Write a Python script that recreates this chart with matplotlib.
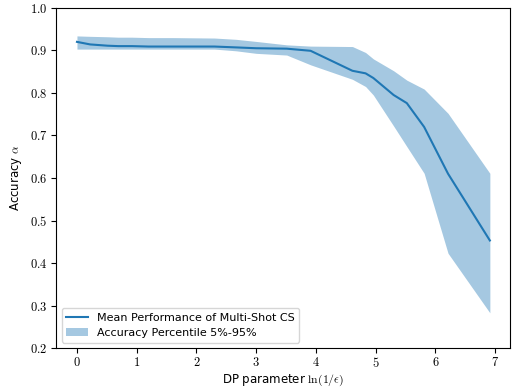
import matplotlib
matplotlib.use("Agg")
import matplotlib.pyplot as plt
from matplotlib.ticker import FuncFormatter

plt.rcParams['mathtext.fontset'] = 'cm'
plt.rcParams['font.family'] = 'DejaVu Sans'

# DP parameter ln(1/eps)
dp_param = [0.0, 0.22, 0.51, 0.69, 0.92, 1.20, 1.61, 2.30, 2.66, 3.00, 3.51, 3.91,
            4.61, 4.83, 4.96, 5.30, 5.52, 5.81, 6.21, 6.91]
mean_acc = [0.920, 0.914, 0.911, 0.910, 0.910, 0.909, 0.909, 0.909, 0.907, 0.905, 0.904, 0.899,
            0.852, 0.846, 0.835, 0.795, 0.776, 0.720, 0.610, 0.453]
upper_acc = [0.934, 0.933, 0.932, 0.931, 0.931, 0.930, 0.930, 0.929, 0.926, 0.921, 0.913, 0.910,
             0.909, 0.895, 0.880, 0.852, 0.830, 0.809, 0.752, 0.611]
lower_acc = [0.903, 0.903, 0.903, 0.903, 0.903, 0.903, 0.903, 0.903, 0.899, 0.893, 0.889, 0.866,
             0.832, 0.815, 0.795, 0.722, 0.674, 0.611, 0.423, 0.283]

fig = plt.figure(figsize=(5.19, 3.92), dpi=100)
ax = fig.add_axes([0.108, 0.112, 0.875, 0.868])

ax.plot(dp_param, mean_acc, color='C0', lw=1.5, label='Mean Performance of Multi-Shot CS')
ax.fill_between(dp_param, lower_acc, upper_acc, color='C0', alpha=0.4, lw=0,
                label='Accuracy Percentile 5%-95%')

ax.set_xlim(-0.35, 7.25)
ax.set_ylim(0.2, 1.0)
ax.set_xticks(range(8))
ax.set_yticks([0.2, 0.3, 0.4, 0.5, 0.6, 0.7, 0.8, 0.9, 1.0])
ax.xaxis.set_major_formatter(FuncFormatter(lambda v, p: r'$%d$' % v))
ax.yaxis.set_major_formatter(FuncFormatter(lambda v, p: r'$%.1f$' % v))
ax.tick_params(labelsize=9, pad=2.5)

ax.set_xlabel(r'DP parameter $\ln(1/\epsilon)$', fontsize=8.5, labelpad=2)
ax.set_ylabel(r'Accuracy $\alpha$', fontsize=8.5, labelpad=4)

ax.legend(loc='lower left', fontsize=8)

fig.savefig('out.png', dpi=100)
